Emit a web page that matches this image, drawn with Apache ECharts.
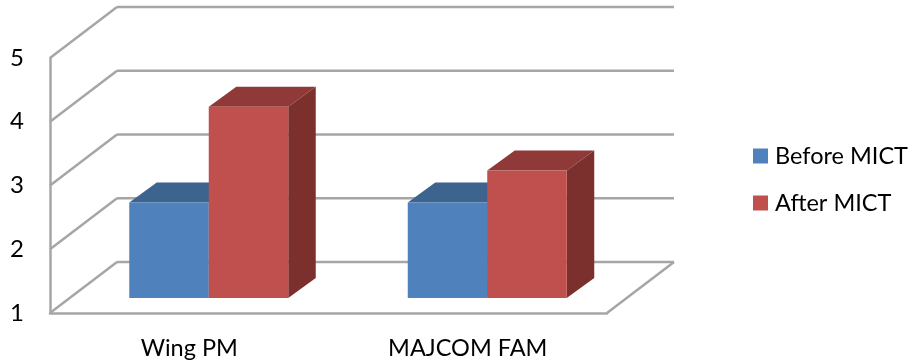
<!DOCTYPE html>
<html>
<head>
<meta charset="utf-8">
<style>html,body{margin:0;padding:0;background:#fff}#c{width:912px;height:362px}</style>
<script src="https://cdn.jsdelivr.net/npm/echarts@6/dist/echarts.min.js"></script>
</head>
<body>
<div id="c"></div>
<script>
const categories = ['Wing PM', 'MAJCOM FAM'];
const seriesNames = ['Before MICT', 'After MICT'];
const beforeValues = [2.5, 2.5];
const afterValues = [4, 3];
const yTicks = [1, 2, 3, 4, 5];

const FONT = 'Lato';
const GRID = '#a6a6a6';
const BACK_DX = 67, BACK_DY = -51;
const PLANE_DX = 19.5, PLANE_DY = -15;
const SIDE_DX = 27.5, SIDE_DY = -20;
const BAR_W = 79.5;

function poly(points, fill) {
  return { type: 'polygon', shape: { points }, style: { fill, stroke: null } };
}
function line(x1, y1, x2, y2) {
  return { type: 'line', shape: { x1, y1, x2, y2 }, style: { stroke: GRID, lineWidth: 2.5, fill: null } };
}
function frameItem(params, api) {
  const v = api.value(0);
  const r = params.coordSys;
  const y = api.coord([0, v])[1];
  const x0 = r.x, x1 = r.x + r.width;
  const kids = [
    line(x0, y, x0 + BACK_DX, y + BACK_DY),
    line(x0 + BACK_DX, y + BACK_DY, x1 + BACK_DX, y + BACK_DY)
  ];
  if (v === yTicks[0]) kids.push(line(x1, y, x1 + BACK_DX, y + BACK_DY));
  return { type: 'group', children: kids };
}
function barItem(offsetIndex, front, top, side) {
  return function (params, api) {
    const c = api.value(0);
    const p = api.coord([c, api.value(1)]);
    const b = api.coord([c, yTicks[0]]);
    const xl = p[0] + PLANE_DX + (offsetIndex === 0 ? -BAR_W : 0);
    const xr = xl + BAR_W;
    const yt = p[1] + PLANE_DY;
    const yb = b[1] + PLANE_DY;
    return {
      type: 'group',
      children: [
        poly([[xl, yt], [xr, yt], [xr + SIDE_DX, yt + SIDE_DY], [xl + SIDE_DX, yt + SIDE_DY]], top),
        poly([[xr, yt], [xr + SIDE_DX, yt + SIDE_DY], [xr + SIDE_DX, yb + SIDE_DY], [xr, yb]], side),
        poly([[xl, yt], [xr, yt], [xr, yb], [xl, yb]], front)
      ]
    };
  };
}

const chart = echarts.init(document.getElementById('c'), null, { renderer: 'canvas' });
chart.setOption({
  animation: false,
  backgroundColor: '#fff',
  grid: { left: 50, top: 58, width: 557, height: 255, containLabel: false },
  legend: {
    orient: 'vertical', left: 748, top: 139, itemWidth: 15, itemHeight: 15, itemGap: 23,
    icon: 'rect', data: seriesNames,
    textStyle: { fontFamily: FONT, fontSize: 23.5, color: '#000', padding: [0, 0, 0, 2] }
  },
  xAxis: {
    type: 'category', data: categories,
    axisLine: { lineStyle: { color: GRID, width: 2.5 } }, axisTick: { show: false },
    axisLabel: { fontFamily: FONT, fontSize: 23.5, color: '#000', margin: 23 }
  },
  yAxis: {
    type: 'value', min: 1, max: 5, interval: 1,
    splitLine: { show: false },
    axisLine: { show: true, lineStyle: { color: GRID, width: 2.5 } }, axisTick: { show: false },
    axisLabel: { fontFamily: FONT, fontSize: 24, color: '#000', margin: 26, padding: [5, 0, 0, 0] }
  },
  series: [
    { type: 'custom', name: 'frame', coordinateSystem: 'cartesian2d', clip: false, silent: true,
      encode: { y: 0 }, data: yTicks.map(v => [v]), renderItem: frameItem, z: 1 },
    { type: 'custom', name: seriesNames[0], clip: false, encode: { x: 0, y: 1 },
      itemStyle: { color: '#4F81BD' },
      data: beforeValues.map((v, i) => [i, v]),
      renderItem: barItem(0, '#4F81BD', '#3D638F', '#37597F'), z: 2 },
    { type: 'custom', name: seriesNames[1], clip: false, encode: { x: 0, y: 1 },
      itemStyle: { color: '#C0504D' },
      data: afterValues.map((v, i) => [i, v]),
      renderItem: barItem(1, '#C0504D', '#8F3A38', '#7C302E'), z: 3 }
  ]
});
</script>
</body>
</html>
